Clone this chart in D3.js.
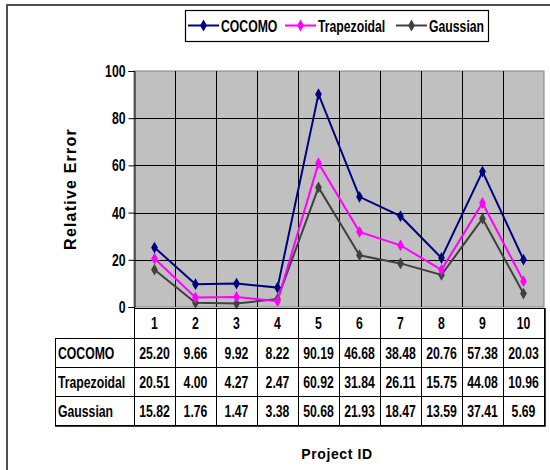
<!DOCTYPE html>
<html>
<head>
<meta charset="utf-8">
<script src="https://cdn.jsdelivr.net/npm/d3@7"></script>
<style>
  html, body { margin: 0; padding: 0; background: #fff; }
  svg { display: block; }
  .narrow { font-family: "Liberation Sans", Arial, sans-serif; font-weight: bold; }
  .wide { font-family: "Liberation Sans", Arial, sans-serif; font-weight: bold; }
</style>
</head>
<body>
<svg id="chart" width="550" height="470"></svg>
<script>
const projectIds = ["1","2","3","4","5","6","7","8","9","10"];
const seriesNames = ["COCOMO", "Trapezoidal", "Gaussian"];
const cocomo      = [25.20, 9.66, 9.92, 8.22, 90.19, 46.68, 38.48, 20.76, 57.38, 20.03];
const trapezoidal = [20.51, 4.00, 4.27, 2.47, 60.92, 31.84, 26.11, 15.75, 44.08, 10.96];
const gaussian    = [15.82, 1.76, 1.47, 3.38, 50.68, 21.93, 18.47, 13.59, 37.41, 5.69];
const yTicks = [0, 20, 40, 60, 80, 100];
const colors = ["#000080", "#FF00FF", "#404040"];

const series = [cocomo, trapezoidal, gaussian].map((vals, i) => ({ name: seriesNames[i], values: vals, color: colors[i] }));

const svg = d3.select("#chart");
const plot = { left: 134, right: 544, top: 71, bottom: 307 };
const SX = 0.72; // narrow-font emulation
const FS = 17;

const x = d3.scaleBand().domain(projectIds).range([plot.left, plot.right]).padding(0);
const y = d3.scaleLinear().domain([0, 100]).range([plot.bottom, plot.top]);

function narrowText(parent, tx, ty, str, anchor, size) {
  return parent.append("text").attr("class", "narrow")
    .attr("transform", `translate(${tx},${ty}) scale(${SX},1)`)
    .attr("text-anchor", anchor || "start").attr("dy", "0.36em")
    .attr("font-size", size || FS).attr("fill", "#000").text(str);
}

// outer chart border (left + top)
svg.append("path")
  .attr("d", "M7,470 L7,5 L550,5")
  .attr("fill", "none").attr("stroke", "#505050").attr("stroke-width", 2);

// plot background
svg.append("rect")
  .attr("x", plot.left).attr("y", plot.top)
  .attr("width", plot.right - plot.left).attr("height", plot.bottom - plot.top)
  .attr("fill", "#C0C0C0").attr("stroke", "#808080").attr("stroke-width", 1);

// horizontal gridlines
svg.append("g").selectAll("line").data(yTicks.filter(t => t > 0 && t < 100)).join("line")
  .attr("x1", plot.left).attr("x2", plot.right)
  .attr("y1", d => Math.round(y(d)) + 0.5).attr("y2", d => Math.round(y(d)) + 0.5)
  .attr("stroke", "#000").attr("stroke-width", 1);

// vertical gridlines at category boundaries
svg.append("g").selectAll("line").data(projectIds.slice(1)).join("line")
  .attr("x1", d => Math.round(x(d)) + 0.5).attr("x2", d => Math.round(x(d)) + 0.5)
  .attr("y1", plot.top).attr("y2", plot.bottom)
  .attr("stroke", "#000").attr("stroke-width", 1);

// y axis
const yAxis = d3.axisLeft(y).tickValues(yTicks).tickSize(6).tickPadding(3).tickFormat(d3.format("d"));
const ya = svg.append("g").attr("transform", `translate(${plot.left + 0.5},0)`).call(yAxis);
ya.select(".domain").attr("stroke", "#000");
ya.selectAll(".tick line").attr("stroke", "#000");
ya.selectAll(".tick text").attr("class", "narrow").attr("font-size", FS).attr("fill", "#000")
  .attr("x", -9 / SX).attr("transform", `scale(${SX},1)`);

// lines and markers
const line = d3.line().x((d, i) => x(projectIds[i]) + x.bandwidth() / 2).y(d => y(d));
const diamond = d3.symbol().type(d3.symbolDiamond).size(40);
series.slice().reverse().forEach(s => {
  svg.append("path").datum(s.values)
    .attr("d", line).attr("fill", "none").attr("stroke", s.color).attr("stroke-width", 2);
  svg.append("g").selectAll("path").data(s.values).join("path")
    .attr("d", diamond)
    .attr("transform", (d, i) => `translate(${x(projectIds[i]) + x.bandwidth() / 2},${y(d)})`)
    .attr("fill", s.color);
});

// data table
const rowTop = [308, 338, 367, 396, 425];
const tableLeft = 55;
const tg = svg.append("g");
tg.append("rect").attr("x", plot.left + 0.5).attr("y", rowTop[0] + 0.5)
  .attr("width", plot.right - plot.left).attr("height", rowTop[1] - rowTop[0])
  .attr("fill", "none").attr("stroke", "#000");
projectIds.forEach(d => narrowText(tg, x(d) + x.bandwidth() / 2, (rowTop[0] + rowTop[1]) / 2, d, "middle"));
tg.append("rect").attr("x", tableLeft + 0.5).attr("y", rowTop[1] + 0.5)
  .attr("width", plot.right - tableLeft).attr("height", rowTop[4] - rowTop[1])
  .attr("fill", "none").attr("stroke", "#000");
tg.append("path").attr("d", `M${plot.right + 1},${rowTop[0]} L${plot.right + 1},${rowTop[4] + 1} L${tableLeft},${rowTop[4] + 1}`)
  .attr("fill", "none").attr("stroke", "#000").attr("stroke-width", 1.5);
[rowTop[2], rowTop[3]].forEach(yy => {
  tg.append("line").attr("x1", tableLeft).attr("x2", plot.right).attr("y1", yy + 0.5).attr("y2", yy + 0.5).attr("stroke", "#000");
});
[plot.left, ...projectIds.slice(1).map(d => Math.round(x(d)))].forEach(xx => {
  tg.append("line").attr("x1", xx + 0.5).attr("x2", xx + 0.5).attr("y1", rowTop[0]).attr("y2", rowTop[4]).attr("stroke", "#000");
});
series.forEach((s, r) => {
  const cy = (rowTop[r + 1] + rowTop[r + 2]) / 2;
  narrowText(tg, tableLeft + 3, cy, s.name, "start");
  s.values.forEach((v, i) => narrowText(tg, x(projectIds[i]) + x.bandwidth() / 2, cy, d3.format(".2f")(v), "middle"));
});

// axis titles
svg.append("text").attr("class", "wide")
  .attr("transform", `translate(76,${(plot.top + plot.bottom) / 2}) rotate(-90)`)
  .attr("text-anchor", "middle").attr("font-size", 16).attr("letter-spacing", 1.2)
  .text("Relative Error");
svg.append("text").attr("class", "wide")
  .attr("x", 337).attr("y", 459).attr("text-anchor", "middle")
  .attr("font-size", 14).attr("letter-spacing", 0.6).text("Project ID");

// legend
const lg = svg.append("g");
lg.append("rect").attr("x", 185.5).attr("y", 10.5).attr("width", 303).attr("height", 31)
  .attr("fill", "#fff").attr("stroke", "#000").attr("stroke-width", 1.2);
const legendX = [188, 285, 396];
series.forEach((s, i) => {
  const lx = legendX[i];
  lg.append("line").attr("x1", lx).attr("x2", lx + 31).attr("y1", 25.5).attr("y2", 25.5)
    .attr("stroke", s.color).attr("stroke-width", 2);
  lg.append("path").attr("d", diamond).attr("transform", `translate(${lx + 15.5},25.5)`).attr("fill", s.color);
  narrowText(lg, lx + 33, 25.5, s.name, "start");
});
</script>
</body>
</html>
